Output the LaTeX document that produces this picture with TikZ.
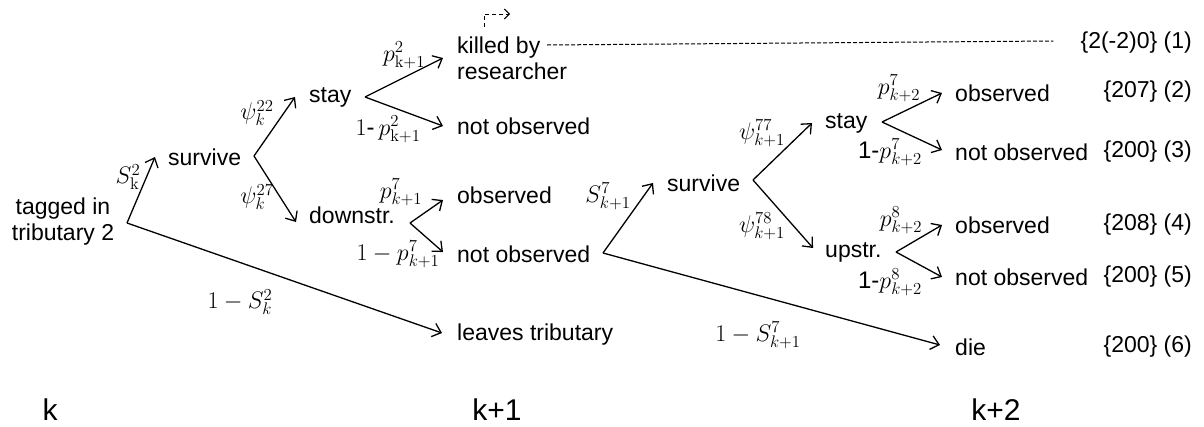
\documentclass[tikz,border=0pt]{standalone}
\usepackage{fix-cm}
\usepackage[no-math]{fontspec}
\setmainfont{Liberation Sans}
\usepackage{tikz}
\usetikzlibrary{arrows.meta,positioning,calc}

\begin{document}
\begin{tikzpicture}[x=1pt,y=-1pt,
  txt/.style={anchor=west, inner sep=0pt, font=\fontsize{23}{26}\selectfont},
  res/.style={anchor=east, inner sep=0pt, font=\fontsize{23}{26}\selectfont},
  step label/.style={inner sep=0pt, font=\fontsize{30}{34}\selectfont},
  prob/.style={inner sep=0pt, font=\fontsize{24}{28}\selectfont},
  arr/.style={line width=1.3pt, -{Straight Barb[length=8pt,width=14pt,line width=1.3pt]}}]
\useasboundingbox (0,0) rectangle (1204,426);

% Time steps
\node[step label] (tk) at (50,410) {k};
\node[step label] (tk1) at (497,410) {k+1};
\node[step label] (tk2) at (996,410) {k+2};

% Step k
\node[txt, anchor=center, align=center] (tag) at (63,222) {tagged in\\tributary 2};
\node[txt] (surv1) at (168,157) {survive};
\node[txt] (stay1) at (309,97) {stay};
\node[txt] (down) at (309,215) {downstr.};

% Step k+1
\node[txt, align=left] (kill) at (457,58) {killed by\\researcher};
\node[txt] (nobs1) at (457,126) {not observed};
\node[txt] (obs1) at (457,195) {observed};
\node[txt] (nobs2) at (457,254) {not observed};
\node[txt] (leave) at (457,335) {leaves tributary};
\node[txt] (surv2) at (667,183) {survive};
\node[txt] (stay2) at (825,123) {stay};
\node[txt] (up) at (825,252) {upstr.};

% Step k+2
\node[txt] (obs3) at (955,93) {observed};
\node[txt] (nobs3) at (955,152) {not observed};
\node[txt] (obs4) at (955,225) {observed};
\node[txt] (nobs4) at (955,277) {not observed};
\node[txt] (die) at (955,347) {die};

% Capture histories
\node[res] (r1) at (1192,43) {\{2(-2)0\} (1)};
\node[res] (r2) at (1192,92) {\{207\} (2)};
\node[res] (r3) at (1192,152) {\{200\} (3)};
\node[res] (r4) at (1192,225) {\{208\} (4)};
\node[res] (r5) at (1192,277) {\{200\} (5)};
\node[res] (r6) at (1192,347) {\{200\} (6)};

% Branch points
\coordinate (vtag) at (127,223);
\coordinate (vsurv1) at (254,156);
\coordinate (vstay1) at (365,97);
\coordinate (vdown) at (410,223);
\coordinate (vnobs) at (603,253);
\coordinate (vsurv2) at (753,180);
\coordinate (vstay2) at (882,122);
\coordinate (vup) at (896,252);

% Branches
\draw[arr] (vtag) -- ([xshift=-13pt]surv1.west);
\draw[arr] (vtag) -- ([xshift=-15pt,yshift=2pt]leave.west);
\draw[arr] (vsurv1) -- ([xshift=-14pt]stay1.west);
\draw[arr] (vsurv1) -- ([xshift=-13pt,yshift=-7pt]down.west);
\draw[arr] (vstay1) -- ([xshift=-14pt]kill.west);
\draw[arr] (vstay1) -- ([xshift=-14pt]nobs1.west);
\draw[arr] (vdown) -- ([xshift=-14pt,yshift=-5pt]obs1.west);
\draw[arr] (vdown) -- ([xshift=-14pt,yshift=2pt]nobs2.west);
\draw[arr] (vnobs) -- ([xshift=-14pt]surv2.west);
\draw[arr] (vnobs) -- ([xshift=-15pt,yshift=2pt]die.west);
\draw[arr] (vsurv2) -- ([xshift=-13pt]stay2.west);
\draw[arr] (vsurv2) -- ([xshift=-12pt,yshift=4pt]up.west);
\draw[arr] (vstay2) -- ([xshift=-13pt]obs3.west);
\draw[arr] (vstay2) -- ([xshift=-13pt,yshift=2pt]nobs3.west);
\draw[arr] (vup) -- ([xshift=-13pt]obs4.west);
\draw[arr] (vup) -- ([xshift=-13pt]nobs4.west);

% Probabilities
\node[prob] (ls1) at (128,177) {$S^{2}_{\mathrm{k}}$};
\node[prob] (lp22) at (257,113) {$\psi^{22}_{k}$};
\node[prob] (lp27) at (257,197) {$\psi^{27}_{k}$};
\node[prob] (lk) at (404,55) {$p^{2}_{\mathrm{k+1}}$};
\node[prob] (lnk) at (388,129) {$1$-\,$p^{2}_{\mathrm{k+1}}$};
\node[prob] (lo1) at (401,192) {$p^{7}_{k+1}$};
\node[prob] (lno1) at (398,254) {$1-p^{7}_{k+1}$};
\node[prob] (ls2) at (608,196) {$S^{7}_{k+1}$};
\node[prob] (lns1) at (240,302) {$1-S^{2}_{k}$};
\node[prob] (lns2) at (758,335) {$1-S^{7}_{k+1}$};
\node[prob] (lp77) at (762,133) {$\psi^{77}_{k+1}$};
\node[prob] (lp78) at (762,226) {$\psi^{78}_{k+1}$};
\node[prob] (lo3) at (899,88) {$p^{7}_{k+2}$};
\node[prob] (lno3) at (890,152) {1-$p^{7}_{k+2}$};
\node[prob] (lo4) at (901,220) {$p^{8}_{k+2}$};
\node[prob] (lno4) at (890,282) {1-$p^{8}_{k+2}$};

% Killed fish carried to the end
\coordinate (kd) at (547,45);
\draw[line width=1pt, dash pattern=on 4pt off 2pt] (kd) -- ([xshift=-27pt,yshift=2pt]r1.west);
\draw[line width=1pt, dash pattern=on 4pt off 3pt, -{Straight Barb[length=5pt,width=10pt,line width=1pt]}] (484,27) |- (510,14);
\end{tikzpicture}
\end{document}
